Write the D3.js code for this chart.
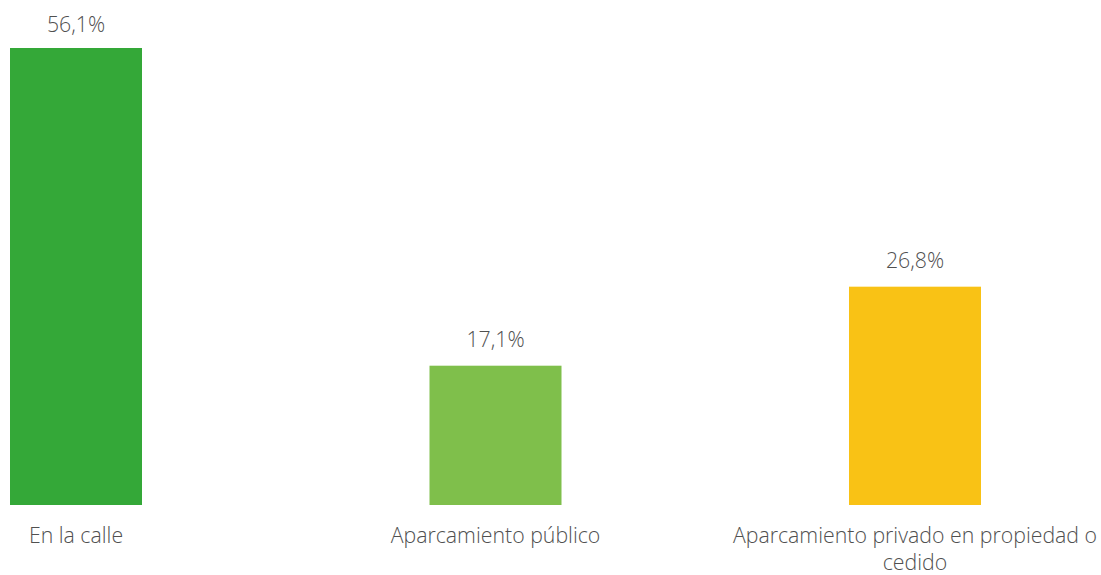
<!DOCTYPE html>
<html>
<head>
<meta charset="utf-8">
<script src="https://cdn.jsdelivr.net/npm/d3@7"></script>
<style>
  body { margin: 0; background: #fff; }
  text { font-family: "Open Sans", sans-serif; font-weight: 300; fill: #505050; }
</style>
</head>
<body>
<div id="chart"></div>
<script>
var categories = ["En la calle", "Aparcamiento público", "Aparcamiento privado en propiedad o cedido"];
var values = [56.1, 17.1, 26.8];
var colors = ["#34a838", "#7fbf4b", "#f9c215"];

var w = 1101, h = 575;
var baseline = 505;

var svg = d3.select("#chart").append("svg")
    .attr("width", w)
    .attr("height", h);

var x = d3.scaleBand()
    .domain(categories)
    .range([-133.75, 1124.75])
    .paddingInner(1 - 132 / 419.5)
    .paddingOuter((1 - 132 / 419.5) / 2);

var y = d3.scaleLinear()
    .domain([0, 56.1])
    .range([baseline, 48]);

svg.selectAll("rect.bar")
    .data(values)
    .join("rect")
    .attr("class", "bar")
    .attr("x", function (d, i) { return x(categories[i]); })
    .attr("width", x.bandwidth())
    .attr("y", function (d) { return y(d); })
    .attr("height", function (d) { return baseline - y(d); })
    .attr("fill", function (d, i) { return colors[i]; });

// value labels
svg.selectAll("text.val")
    .data(values)
    .join("text")
    .attr("class", "val")
    .attr("x", function (d, i) { return x(categories[i]) + x.bandwidth() / 2; })
    .attr("y", function (d) { return Math.max(32, y(d) - 18.5); })
    .attr("text-anchor", "middle")
    .style("font-size", "21.3px")
    .text(function (d) { return d3.format(".1f")(d).replace(".", ",") + "%"; });

// category labels, wrapped
var labelLines = [["En la calle"], ["Aparcamiento público"], ["Aparcamiento privado en propiedad o", "cedido"]];
var cat = svg.selectAll("text.cat")
    .data(categories)
    .join("text")
    .attr("class", "cat")
    .attr("text-anchor", "middle")
    .style("font-size", "21.3px")
    .attr("y", 543);

cat.each(function (d, i) {
    var cx = x(d) + x.bandwidth() / 2;
    d3.select(this).selectAll("tspan")
        .data(labelLines[i])
        .join("tspan")
        .attr("x", cx)
        .attr("dy", function (l, j) { return j === 0 ? 0 : 26.5; })
        .text(function (l) { return l; });
});
</script>
</body>
</html>
